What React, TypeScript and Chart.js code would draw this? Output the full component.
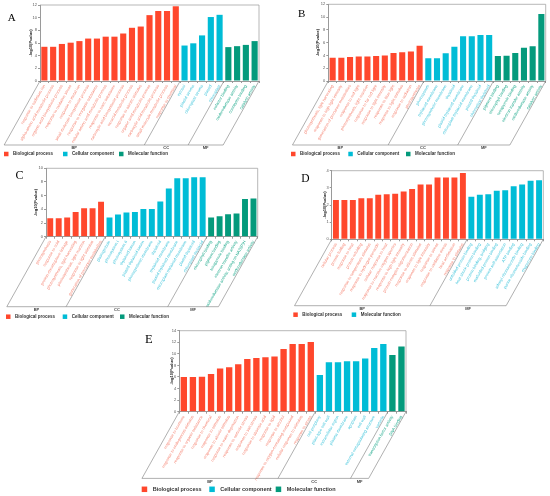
import { useEffect, useRef } from "react"
import { Chart, registerables } from "chart.js"

Chart.register(...registerables)

const FONT = "'Liberation Sans', Arial, sans-serif"
const SERIF = "'Liberation Serif', 'Times New Roman', serif"
const SLANT = 0.56 // horizontal shift of the slanted box per px of depth
const AXIS = "#9a9a9a"

const RED = "#ff472c"
const RED_TXT = "#f5806f"
const CYAN = "#00bcd6"
const CYAN_TXT = "#3cc3da"
const GREEN = "#049a7c"
const GREEN_TXT = "#14a586"

// ---- panel A ----
const aBpTerms = [
  "response to cadmium ion",
  "alpha-amino acid metabolic process",
  "organic acid biosynthetic process",
  "response to oxidative stress",
  "response to metal ion",
  "small molecule biosynthetic process",
  "response to inorganic substance",
  "cellular amino acid metabolic process",
  "response to toxic substance",
  "carboxylic acid biosynthetic process",
  "oxoacid metabolic process",
  "response to abiotic stimulus",
  "organic acid metabolic process",
  "carboxylic acid metabolic process",
  "small molecule metabolic process",
  "response to chemical",
]
const aBpValues = [5.4, 5.4, 5.85, 6.05, 6.3, 6.7, 6.7, 7.0, 7.0, 7.5, 8.4, 8.6, 10.4, 11.05, 11.05, 11.8]
const aCcTerms = ["cytosol", "plastid stroma", "chloroplast stroma", "plastid", "chloroplast"]
const aCcValues = [5.6, 5.95, 7.2, 10.1, 10.45]
const aMfTerms = ["cofactor binding", "oxidoreductase activity", "coenzyme binding", "catalytic activity"]
const aMfValues = [5.35, 5.5, 5.7, 6.3]

// ---- panel B ----
const bBpTerms = [
  "photosynthesis, light harvesting",
  "response to high light intensity",
  "generation of precursor metabolites",
  "response to red light",
  "photosynthesis, light reaction",
  "response to far red light",
  "response to light intensity",
  "response to blue light",
  "response to light stimulus",
  "response to radiation",
  "photosynthesis",
]
const bBpValues = [3.65, 3.65, 3.75, 3.85, 3.85, 3.9, 4.0, 4.4, 4.5, 4.6, 5.5]
const bCcTerms = [
  "photosystem",
  "thylakoid membrane",
  "photosynthetic membrane",
  "thylakoid",
  "plastid thylakoid membrane",
  "chloroplast thylakoid membrane",
  "plastid thylakoid",
  "chloroplast thylakoid",
]
const bCcValues = [3.55, 3.55, 4.35, 5.35, 7.0, 7.0, 7.2, 7.2]
const bMfTerms = [
  "pigment binding",
  "chlorophyll binding",
  "tetrapyrrole binding",
  "electron transfer activity",
  "oxidoreductase activity",
  "catalytic activity",
]
const bMfValues = [3.9, 3.95, 4.4, 5.2, 5.45, 10.5]

// ---- panel C ----
const cBpTerms = [
  "photosynthesis",
  "response to cold",
  "protein-chromophore linkage",
  "photosynthesis, light harvesting",
  "photosynthesis, light reaction",
  "response to light stimulus",
  "generation of precursor metabolites",
]
const cBpValues = [2.7, 2.7, 2.8, 3.6, 4.15, 4.15, 5.1]
const cCcTerms = [
  "plastoglobule",
  "photosystem I",
  "photosystem II",
  "thylakoid lumen",
  "plastid thylakoid lumen",
  "photosynthetic membrane",
  "thylakoid",
  "thylakoid membrane",
  "plastid thylakoid membrane",
  "chloroplast thylakoid membrane",
  "plastid thylakoid",
  "chloroplast thylakoid",
]
const cCcValues = [2.8, 3.25, 3.55, 3.6, 4.05, 4.05, 5.15, 7.05, 8.55, 8.55, 8.7, 8.7]
const cMfTerms = [
  "chlorophyll binding",
  "pigment binding",
  "tetrapyrrole binding",
  "electron transfer activity",
  "oxidoreductase activity, acting on NAD(P)H",
  "oxidoreductase activity",
]
const cMfValues = [2.8, 3.0, 3.3, 3.4, 5.5, 5.6]

// ---- panel D ----
const dBpTerms = [
  "cellular process",
  "protein folding",
  "response to heat",
  "protein refolding",
  "response to temperature stimulus",
  "response to hydrogen peroxide",
  "cellular response to heat",
  "response to reactive oxygen species",
  "response to high light intensity",
  "protein complex oligomerization",
  "response to abiotic stimulus",
  "response to light intensity",
  "response to stress",
  "response to oxidative stress",
  "heat acclimation",
  "response to stimulus",
]
const dBpValues = [2.29, 2.29, 2.29, 2.39, 2.39, 2.6, 2.62, 2.66, 2.78, 2.93, 3.2, 3.2, 3.6, 3.6, 3.6, 3.87]
const dMfTerms = [
  "unfolded protein binding",
  "heat shock protein binding",
  "protein binding, bridging",
  "misfolded protein binding",
  "protein self-association",
  "ATP binding",
  "adenyl ribonucleotide binding",
  "purine ribonucleoside binding",
  "chaperone binding",
]
const dMfValues = [2.48, 2.6, 2.63, 2.83, 2.86, 3.1, 3.2, 3.42, 3.44]

// ---- panel E ----
const eBpTerms = [
  "response to hormone",
  "response to endogenous stimulus",
  "response to organic substance",
  "response to chemical",
  "response to stimulus",
  "response to abiotic stimulus",
  "response to water deprivation",
  "response to osmotic stress",
  "response to salt stress",
  "response to abscisic acid",
  "response to lipid",
  "response to alcohol",
  "response to oxygen-containing compound",
  "cellular response to stimulus",
  "response to stress",
]
const eBpValues = [6.0, 6.0, 6.05, 6.5, 7.45, 7.7, 8.2, 9.1, 9.27, 9.4, 9.55, 10.85, 11.7, 11.7, 12.05]
const eCcTerms = [
  "cell periphery",
  "plant-type cell wall",
  "extracellular region",
  "plasma membrane",
  "apoplast",
  "cell wall",
  "external encapsulating structure",
  "vacuole",
]
const eCcValues = [6.35, 8.55, 8.55, 8.7, 8.7, 9.2, 11.0, 11.7]
const eMfTerms = ["transcription factor activity", "DNA binding"]
const eMfValues = [9.8, 11.25]

interface Group {
  name: string
  legend: string
  terms: string[]
  values: number[]
  color: string
  text: string
}

interface PanelProps {
  letter: string
  box: [number, number, number, number]
  pad: [number, number, number]
  yW: number
  plotBottom: number
  yMax: number
  step: number
  depth: number
  legendY: number
  legendX: number[]
  letterPos: [number, number, number]
  legendSize?: number
  groups: Group[]
}

const bp = (terms: string[], values: number[]): Group => ({
  name: "BP", legend: "Biological process", terms, values, color: RED, text: RED_TXT,
})
const cc = (terms: string[], values: number[]): Group => ({
  name: "CC", legend: "Cellular component", terms, values, color: CYAN, text: CYAN_TXT,
})
const mf = (terms: string[], values: number[], color = GREEN, text = GREEN_TXT): Group => ({
  name: "MF", legend: "Molecular function", terms, values, color, text,
})

function Panel(p: PanelProps) {
  const ref = useRef<HTMLCanvasElement>(null)

  useEffect(() => {
    if (!ref.current) return
    const labels = p.groups.flatMap((g) => g.terms)
    const values = p.groups.flatMap((g) => g.values)
    const barColors = p.groups.flatMap((g) => g.values.map(() => g.color))
    const textColors = p.groups.flatMap((g) => g.terms.map(() => g.text))
    const xH = p.box[3] - p.plotBottom
    const lgSize = p.legendSize || 4.5

    const decor = {
      id: "goDecor",
      afterDraw(chart: Chart) {
        const { ctx, chartArea } = chart
        const { left, top, right, bottom } = chartArea
        const x = chart.scales.x
        ctx.save()
        ctx.strokeStyle = AXIS
        ctx.lineWidth = 0.7
        // top and right frame
        ctx.beginPath()
        ctx.moveTo(left, top)
        ctx.lineTo(right, top)
        ctx.lineTo(right, bottom)
        ctx.stroke()

        // slanted box under the axis
        const s = p.depth * SLANT
        const yb = bottom + p.depth
        const edges = [left]
        let idx = 0
        p.groups.forEach((g) => {
          idx += g.values.length
          edges.push(idx === values.length ? right : x.getPixelForValue(idx - 0.5))
        })
        ctx.strokeStyle = "#7a7a7a"
        ctx.lineWidth = 0.6
        ctx.beginPath()
        edges.forEach((e) => {
          ctx.moveTo(e, bottom)
          ctx.lineTo(e - s, yb)
        })
        ctx.moveTo(left - s, yb)
        ctx.lineTo(right - s, yb)
        ctx.stroke()

        ctx.fillStyle = "#444"
        ctx.font = `bold 4px ${FONT}`
        ctx.textAlign = "center"
        ctx.textBaseline = "top"
        p.groups.forEach((g, i) => {
          ctx.fillText(g.name, (edges[i] + edges[i + 1]) / 2 - s, yb + 1)
        })

        // legend
        ctx.textAlign = "left"
        ctx.textBaseline = "middle"
        ctx.font = `bold ${lgSize}px ${FONT}`
        p.groups.forEach((g, i) => {
          const lx = p.legendX[i]
          ctx.fillStyle = g.color
          ctx.fillRect(lx, p.legendY - lgSize / 2, lgSize, lgSize)
          ctx.fillStyle = "#333"
          ctx.fillText(g.legend, lx + lgSize * 2, p.legendY)
        })

        // panel letter
        const [lx, ly, ls] = p.letterPos
        ctx.fillStyle = "#000"
        ctx.font = `${ls}px ${SERIF}`
        ctx.textAlign = "center"
        ctx.textBaseline = "alphabetic"
        ctx.fillText(p.letter, lx, ly + ls * 0.33)
        ctx.restore()
      },
    }

    const chart = new Chart(ref.current, {
      type: "bar",
      data: {
        labels,
        datasets: [
          {
            data: values,
            backgroundColor: barColors,
            barPercentage: 0.7,
            categoryPercentage: 1,
          },
        ],
      },
      options: {
        animation: false,
        responsive: true,
        maintainAspectRatio: false,
        layout: { padding: { left: p.pad[0], top: p.pad[1], right: p.pad[2], bottom: 0 } },
        plugins: { legend: { display: false }, tooltip: { enabled: false } },
        scales: {
          x: {
            grid: { display: true, drawOnChartArea: false, tickLength: 2, color: AXIS },
            border: { color: AXIS },
            ticks: {
              autoSkip: false,
              minRotation: 60,
              maxRotation: 60,
              padding: 1,
              font: { size: 4, family: FONT },
              color: (c: any) => textColors[c.index],
            },
            afterFit: (s: any) => {
              s.height = xH
            },
          },
          y: {
            min: 0,
            max: p.yMax,
            grid: { display: true, drawOnChartArea: false, tickLength: 2, color: AXIS },
            border: { color: AXIS },
            ticks: { stepSize: p.step, padding: 1, font: { size: 4, family: FONT }, color: "#555" },
            title: {
              display: true,
              text: "-log10(Pvalue)",
              padding: 0,
              font: { size: 4, weight: "bold", family: FONT },
              color: "#222",
            },
            afterFit: (s: any) => {
              s.width = p.yW
            },
          },
        },
      },
      plugins: [decor],
    })

    return () => chart.destroy()
  }, [])

  const [x, y, w, h] = p.box
  return (
    <div style={{ position: "absolute", left: x, top: y, width: w, height: h }}>
      <canvas ref={ref} />
    </div>
  )
}

export default function App() {
  return (
    <div style={{ position: "absolute", left: 0, top: 0, width: 550, height: 496, background: "#fff" }}>
      <Panel
        letter="A"
        box={[0, 0, 275, 160]}
        pad={[28.5, 5, 16]}
        yW={11.5}
        plotBottom={81}
        yMax={12}
        step={2}
        depth={64}
        legendY={154}
        legendX={[4, 63, 119]}
        letterPos={[11.7, 17.5, 11]}
        groups={[bp(aBpTerms, aBpValues), cc(aCcTerms, aCcValues), mf(aMfTerms, aMfValues)]}
      />
      <Panel
        letter="B"
        box={[275, 0, 275, 160]}
        pad={[40, 4.3, 4.3]}
        yW={13.3}
        plotBottom={81}
        yMax={12}
        step={2}
        depth={64}
        legendY={154}
        legendX={[16, 73.3, 131]}
        letterPos={[26.7, 13, 11]}
        groups={[bp(bBpTerms, bBpValues), cc(bCcTerms, bCcValues), mf(bMfTerms, bMfValues)]}
      />
      <Panel
        letter="C"
        box={[0, 160, 275, 165]}
        pad={[33, 8.3, 17.3]}
        yW={13}
        plotBottom={76.7}
        yMax={10}
        step={2}
        depth={70}
        legendY={156.7}
        legendX={[6, 62.7, 120]}
        letterPos={[19.5, 14.7, 12]}
        groups={[bp(cBpTerms, cBpValues), cc(cCcTerms, cCcValues), mf(cMfTerms, cMfValues)]}
      />
      <Panel
        letter="D"
        box={[275, 160, 275, 165]}
        pad={[47.5, 10.7, 6.7]}
        yW={9.2}
        plotBottom={79.3}
        yMax={4}
        step={1}
        depth={66.4}
        legendY={154.7}
        legendX={[18.3, 76.7]}
        letterPos={[30.3, 17.8, 11.5]}
        groups={[bp(dBpTerms, dBpValues), mf(dMfTerms, dMfValues, CYAN, CYAN_TXT)]}
      />
      <Panel
        letter="E"
        box={[130, 320, 290, 176]}
        pad={[39.5, 10.7, 14]}
        yW={9.8}
        plotBottom={91.7}
        yMax={14}
        step={2}
        depth={66.7}
        legendY={169.3}
        legendX={[11.7, 79.3, 145.7]}
        letterPos={[18.8, 18.5, 12.5]}
        legendSize={5.5}
        groups={[bp(eBpTerms, eBpValues), cc(eCcTerms, eCcValues), mf(eMfTerms, eMfValues)]}
      />
    </div>
  )
}
